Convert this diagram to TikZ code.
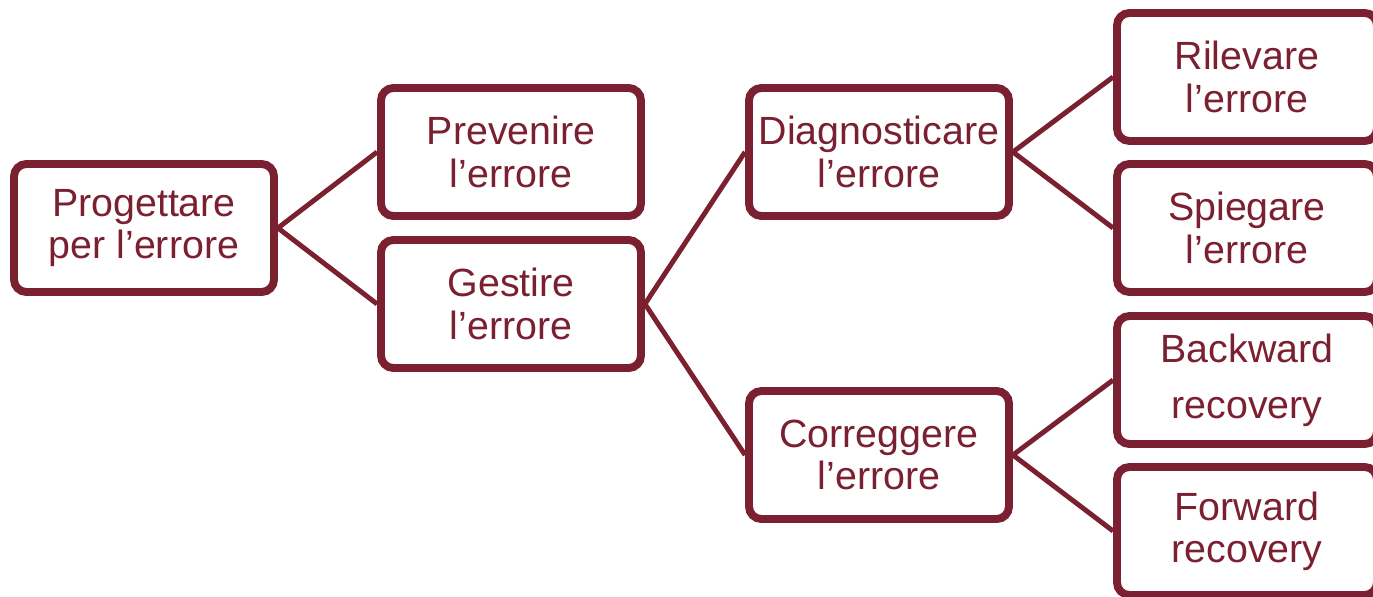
\documentclass[tikz,border=0pt]{standalone}
\usepackage{fontspec}
\setmainfont{Liberation Sans}
\usepackage{tikz}
\usetikzlibrary{shadows}
\definecolor{bordo}{RGB}{122,32,48}
\tikzset{
  box/.style={draw=bordo, line width=4.5pt, rounded corners=7pt, fill=white,
    text=bordo, align=center, minimum width=5.2cm, minimum height=2.56cm,
    inner sep=0pt, font=\fontsize{22.4}{24}\selectfont,
    drop shadow={shadow xshift=1.5pt, shadow yshift=-2pt, opacity=0.25}},
  link/.style={draw=bordo, line width=2.8pt}
}

\begin{document}
\begin{tikzpicture}[x=0.02cm, y=0.02cm]
\useasboundingbox (0,0) rectangle (1373,596);
\clip (0,0) rectangle (1373,596);
\node [box] (prog) at (144, 368) {Progettare\\per l’errore};
\node [box] (prev) at (511, 444) {Prevenire\\l’errore};
\node [box] (gest) at (511, 292) {Gestire\\l’errore};
\node [box] (diag) at (879, 444) {Diagnosticare\\l’errore};
\node [box] (corr) at (879, 141) {Correggere\\l’errore};
\node [box] (ril) at (1247, 519) {Rilevare\\l’errore};
\node [box] (spieg) at (1247, 368) {Spiegare\\l’errore};
\node [box, font=\fontsize{22.4}{32}\selectfont] (back) at (1247, 216) {Backward\\recovery};
\node [box] (forw) at (1247, 65) {Forward\\recovery};
\draw [link] (prog.east) -- (prev.west);
\draw [link] (prog.east) -- (gest.west);
\draw [link] (gest.east) -- (diag.west);
\draw [link] (gest.east) -- (corr.west);
\draw [link] (diag.east) -- (ril.west);
\draw [link] (diag.east) -- (spieg.west);
\draw [link] (corr.east) -- (back.west);
\draw [link] (corr.east) -- (forw.west);
\end{tikzpicture}
\end{document}
